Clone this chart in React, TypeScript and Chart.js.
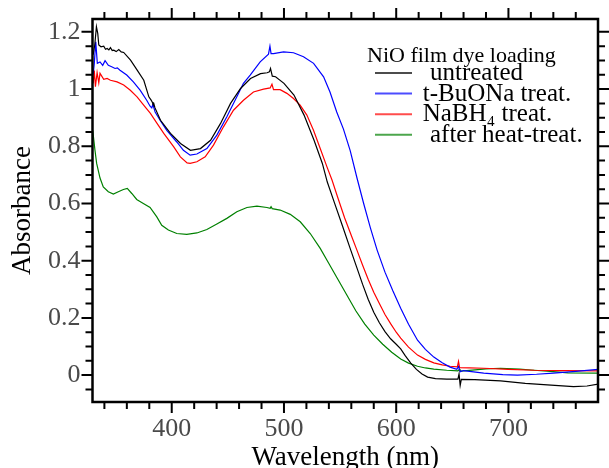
import React, { useEffect, useRef } from "react";
import { Chart, registerables } from "chart.js";

Chart.register(...registerables);

// ---- data (wavelength in nm, absorbance) ----
const untreatedWl = [330, 331.4, 332.9, 334.1, 335, 337, 339.4, 341, 342.5, 344, 345.4, 347, 348.4, 350.5, 352.8, 355, 357.2, 363.3, 369.2, 375.1, 379.6, 381.5, 382.6, 383.3, 384, 385, 390, 398.9, 407.8, 416.7, 425.6, 434.6, 443.5, 452.4, 461.3, 470.2, 479.1, 485, 487, 488, 489.6, 492.5, 500, 508.9, 517.9, 526.8, 534.2, 538.6, 545, 552, 559.5, 565, 570, 575, 580, 585, 590, 595, 600, 604, 608, 613, 618, 623, 628, 635, 645, 655, 656, 657, 658, 670, 693, 715, 738, 758, 770, 780];
const untreatedAbs = [1.12, 1.154, 1.218, 1.194, 1.154, 1.148, 1.15, 1.139, 1.142, 1.137, 1.145, 1.135, 1.136, 1.131, 1.138, 1.13, 1.128, 1.101, 1.066, 1.031, 0.973, 0.962, 0.955, 0.948, 0.95, 0.935, 0.891, 0.845, 0.81, 0.786, 0.792, 0.821, 0.88, 0.95, 1.002, 1.037, 1.054, 1.057, 1.06, 1.072, 1.045, 1.043, 1.02, 0.979, 0.909, 0.821, 0.74, 0.675, 0.602, 0.523, 0.437, 0.375, 0.318, 0.265, 0.22, 0.183, 0.152, 0.127, 0.108, 0.092, 0.068, 0.042, 0.02, 0.004, -0.007, -0.012, -0.014, -0.014, 0.004, -0.036, -0.015, -0.016, -0.02, -0.029, -0.035, -0.04, -0.038, -0.031];

const tBuONaWl = [330, 331, 332.3, 333.7, 336.1, 338.5, 340.6, 343.5, 346.5, 349.5, 351.5, 353.9, 359.9, 365.8, 371.8, 377.7, 380.7, 382.2, 383.2, 385.2, 389.6, 395.6, 404.5, 410.4, 416.4, 422.4, 431.3, 440.2, 449.1, 458, 463.9, 469.9, 478.8, 486.2, 487.5, 488.5, 490.7, 499.6, 508.5, 517.4, 526.4, 535.3, 541, 547, 553, 559, 565, 571, 577, 583, 590, 597, 604, 611, 619, 626, 633.5, 641, 648, 654, 655.5, 657, 660, 678, 695, 708, 725, 740, 760, 780];
const tBuONaAbs = [1.05, 1.09, 1.165, 1.09, 1.095, 1.083, 1.099, 1.083, 1.078, 1.072, 1.074, 1.066, 1.049, 1.025, 0.996, 0.961, 0.94, 0.934, 0.946, 0.92, 0.891, 0.856, 0.815, 0.786, 0.769, 0.773, 0.792, 0.839, 0.903, 0.973, 1.02, 1.049, 1.095, 1.122, 1.15, 1.124, 1.124, 1.13, 1.127, 1.113, 1.09, 1.043, 0.99, 0.92, 0.86, 0.785, 0.69, 0.6, 0.515, 0.437, 0.36, 0.295, 0.234, 0.178, 0.122, 0.09, 0.063, 0.043, 0.028, 0.02, 0.03, 0.012, 0.016, 0.007, 0.002, 0.0, 0.003, 0.007, 0.013, 0.02];

const naBH4Wl = [330, 331, 332, 333.5, 335, 336.1, 339.4, 342.4, 345.4, 351.3, 357.2, 363.1, 369.1, 375, 381, 386.9, 392.9, 401.8, 407.7, 413.7, 416.4, 422.4, 429.8, 437.2, 446.1, 455, 463.9, 472.8, 481.8, 487.7, 489.3, 490.7, 496.6, 502.6, 508.5, 514.4, 520.4, 526.3, 532.3, 538.3, 542.8, 548, 554, 560, 565, 570, 575, 580, 585, 590, 595, 600, 604, 611, 619, 626, 633.5, 641, 648, 654.5, 655.5, 656.5, 665, 678, 700, 723, 750, 780];
const naBH4Abs = [1.02, 1.065, 1.008, 1.058, 1.022, 1.055, 1.034, 1.037, 1.031, 1.025, 1.014, 0.996, 0.973, 0.944, 0.915, 0.88, 0.845, 0.798, 0.763, 0.742, 0.74, 0.746, 0.763, 0.804, 0.868, 0.926, 0.961, 0.99, 1.0, 1.004, 1.017, 0.998, 0.998, 0.985, 0.967, 0.944, 0.909, 0.856, 0.792, 0.728, 0.682, 0.62, 0.55, 0.488, 0.437, 0.385, 0.335, 0.29, 0.25, 0.212, 0.18, 0.15, 0.129, 0.098, 0.07, 0.055, 0.043, 0.036, 0.031, 0.029, 0.048, 0.026, 0.025, 0.024, 0.02, 0.017, 0.016, 0.015];

const heatWl = [329.6, 331.6, 333.1, 336.1, 339, 343.5, 348, 352.4, 356.9, 360.4, 364.4, 368.8, 374.7, 380.7, 386.7, 391.1, 397, 404.5, 413.4, 422.4, 431.3, 440.2, 449.1, 458, 467, 475.9, 484.8, 487.7, 488.5, 489.5, 496.6, 505.6, 514.5, 523.4, 532.3, 540, 548, 556, 564, 572, 580, 588, 596, 604, 611, 619, 626, 633.5, 645, 655, 656.5, 658, 680, 693, 710, 723, 740, 753, 780];
const heatAbs = [0.856, 0.786, 0.74, 0.689, 0.658, 0.641, 0.633, 0.641, 0.649, 0.653, 0.635, 0.614, 0.6, 0.586, 0.553, 0.524, 0.507, 0.495, 0.492, 0.497, 0.509, 0.528, 0.548, 0.571, 0.586, 0.591, 0.586, 0.583, 0.589, 0.582, 0.577, 0.562, 0.536, 0.495, 0.443, 0.39, 0.335, 0.28, 0.225, 0.178, 0.14, 0.108, 0.08, 0.056, 0.042, 0.031, 0.025, 0.021, 0.017, 0.015, 0.02, 0.014, 0.022, 0.024, 0.021, 0.017, 0.012, 0.008, 0.007];

const seriesLabels = ["untreated", "t-BuONa treat.", "NaBH\u2084 treat.", "after heat-treat."];
const seriesColors = ["#000000", "#0000ff", "#ff0000", "#008000"];
const legendTitle = "NiO film dye loading";
const xTitle = "Wavelength (nm)";
const yTitle = "Absorbance";

const X_MIN = 329.4;
const X_MAX = 779.8;
const Y_MIN = -0.094;
const Y_MAX = 1.245;

const SERIF = "'Liberation Serif', 'DejaVu Serif', serif";

function toPoints(wl: number[], ab: number[]) {
  return wl.map((w, i) => ({ x: w, y: ab[i] }));
}

const frameTicksPlugin = {
  id: "frameTicks",
  afterDraw(chart: any) {
    const { ctx, chartArea: a, scales } = chart;
    const xs = scales.x;
    const ys = scales.y;
    ctx.save();
    ctx.strokeStyle = "#000";
    ctx.lineWidth = 2;
    ctx.beginPath();
    for (let i = Math.ceil(xs.min / 20); i * 20 <= xs.max; i++) {
      const v = i * 20;
      const px = xs.getPixelForValue(v);
      const len = v % 100 === 0 ? 11 : 7;
      ctx.moveTo(px, a.bottom);
      ctx.lineTo(px, a.bottom + len);
      ctx.moveTo(px, a.top);
      ctx.lineTo(px, a.top - len);
    }
    for (let i = Math.ceil(ys.min / 0.05 - 1e-9); i * 0.05 <= ys.max + 1e-9; i++) {
      const py = ys.getPixelForValue(i * 0.05);
      const len = i % 4 === 0 ? 11 : 7;
      ctx.moveTo(a.left, py);
      ctx.lineTo(a.left - len, py);
      ctx.moveTo(a.right, py);
      ctx.lineTo(a.right + len, py);
    }
    ctx.stroke();
    ctx.lineWidth = 2.5;
    ctx.strokeRect(a.left, a.top, a.right - a.left, a.bottom - a.top);

    // legend
    const lx = a.right - 231;
    ctx.fillStyle = "#000";
    ctx.textBaseline = "alphabetic";
    ctx.textAlign = "left";
    ctx.font = `22px ${SERIF}`;
    ctx.fillText(legendTitle, lx, a.top + 42.7);
    const textOffsets = [63, 55.7, 55.7, 63];
    chart.data.datasets.forEach((ds: any, i: number) => {
      const base = a.top + 61 + i * 20.6;
      ctx.save();
      ctx.globalAlpha = 0.7;
      ctx.strokeStyle = ds.borderColor;
      ctx.lineWidth = 2;
      ctx.beginPath();
      ctx.moveTo(lx + 8, base - 7);
      ctx.lineTo(lx + 45, base - 7);
      ctx.stroke();
      ctx.restore();
      ctx.font = `25px ${SERIF}`;
      ctx.fillText(ds.label, lx + textOffsets[i], base);
    });
    ctx.restore();
  },
};

export default function App() {
  const ref = useRef<HTMLCanvasElement | null>(null);

  useEffect(() => {
    if (!ref.current) return;
    const series = [
      toPoints(untreatedWl, untreatedAbs),
      toPoints(tBuONaWl, tBuONaAbs),
      toPoints(naBH4Wl, naBH4Abs),
      toPoints(heatWl, heatAbs),
    ];
    const chart = new Chart(ref.current, {
      type: "line",
      data: {
        datasets: series.map((d, i) => ({
          label: seriesLabels[i],
          data: d,
          borderColor: seriesColors[i],
          backgroundColor: seriesColors[i],
          borderWidth: 1.2,
          pointRadius: 0,
          tension: 0,
          fill: false,
        })),
      },
      options: {
        responsive: false,
        animation: false,
        devicePixelRatio: 1,
        layout: { padding: { left: 0, right: 11, top: 19, bottom: 0 } },
        plugins: {
          legend: { display: false },
          tooltip: { enabled: false },
        },
        scales: {
          x: {
            type: "linear",
            min: X_MIN,
            max: X_MAX,
            afterFit: (s: any) => {
              s.height = 66;
              s.paddingLeft = 0;
              s.paddingRight = 0;
            },
            grid: { display: false, drawTicks: false },
            border: { display: false },
            ticks: {
              stepSize: 100,
              includeBounds: false,
              padding: 12,
              color: "#4a4a4a",
              font: { family: SERIF, size: 26 },
              maxRotation: 0,
              callback: (v: any) => String(v),
            },
            title: {
              display: true,
              text: xTitle,
              color: "#000",
              font: { family: SERIF, size: 27, lineHeight: 0.75 },
              padding: { top: 0, bottom: 0 },
            },
          },
          y: {
            type: "linear",
            min: Y_MIN,
            max: Y_MAX,
            afterFit: (s: any) => {
              s.width = 92.5;
              s.paddingTop = 0;
              s.paddingBottom = 0;
            },
            grid: { display: false, drawTicks: false },
            border: { display: false },
            ticks: {
              stepSize: 0.2,
              includeBounds: false,
              padding: 12,
              color: "#4a4a4a",
              font: { family: SERIF, size: 26 },
              callback: (v: any) => String(+Number(v).toFixed(2)),
            },
            title: {
              display: true,
              text: yTitle,
              color: "#000",
              font: { family: SERIF, size: 27 },
              padding: { top: 7, bottom: 0 },
            },
          },
        },
      },
      plugins: [frameTicksPlugin],
    });
    return () => chart.destroy();
  }, []);

  return (
    <div style={{ position: "absolute", left: 0, top: 0, width: 609, height: 468 }}>
      <canvas ref={ref} width={609} height={468} />
    </div>
  );
}
